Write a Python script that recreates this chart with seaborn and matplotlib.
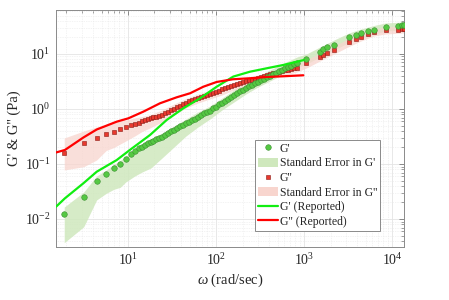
import numpy as np
import pandas as pd
import matplotlib
matplotlib.use("Agg")
import matplotlib.pyplot as plt
import seaborn as sns
from matplotlib.lines import Line2D
from matplotlib.patches import Patch

# ---------------- data ----------------
# measured frequencies (rad/s)
omega = [1.885, 3.142, 4.398, 5.655, 6.912, 8.168, 9.425, 10.68, 11.94, 13.19,
         14.45, 15.71, 16.96, 18.22, 19.48,
         20.81, 22.51, 24.35, 26.34, 28.48, 30.81, 33.32, 36.04, 38.98, 42.17,
         45.61, 49.33, 53.37, 57.73, 62.44, 67.53, 73.04, 79.0, 85.45, 92.44,
         100.0, 108.2, 117.0, 126.6, 136.9, 148.1, 160.2, 173.3, 187.4, 202.7,
         219.3, 237.1, 256.5, 277.5, 300.1, 324.7, 351.2, 379.8, 410.9, 444.4,
         480.7, 520.0, 562.3, 608.3, 658.0, 711.7, 769.8, 832.6,
         1067, 1520, 1623, 1811, 2193, 3247, 3899, 4444, 5268, 6244, 8435,
         11548, 12823, 13680]

g_storage = [0.0122, 0.0254, 0.0497, 0.0650, 0.0846, 0.100, 0.122, 0.149, 0.172, 0.193,
             0.206, 0.222, 0.238, 0.254, 0.267,
             0.283, 0.297, 0.312, 0.342, 0.369, 0.398, 0.422, 0.455, 0.483, 0.520,
             0.550, 0.590, 0.620, 0.669, 0.716, 0.762, 0.832, 0.882, 0.935, 1.043,
             1.097, 1.213, 1.307, 1.398, 1.546, 1.667, 1.782, 1.954, 2.107, 2.235,
             2.450, 2.576, 2.754, 2.970, 3.150, 3.339, 3.570, 3.754, 4.015, 4.257,
             4.591, 4.827, 5.161, 5.472, 5.802, 6.153, 6.635, 6.977,
             8.11, 11.01, 12.07, 13.13, 14.57, 20.12, 22.43, 24.09, 25.86, 27.66, 31.36,
             32.70, 33.25, 33.25]

g_loss = [0.1605, 0.2439, 0.3008, 0.3467, 0.3771, 0.4240, 0.4648, 0.5012, 0.5270, 0.5565,
          0.5925, 0.6230, 0.6497, 0.6775, 0.7006,
          0.7096, 0.7520, 0.7910, 0.8459, 0.8894, 0.9510, 1.0169, 1.0783, 1.1529, 1.2226,
          1.3074, 1.3748, 1.4575, 1.5325, 1.5979, 1.6805, 1.7378, 1.8273, 1.8895, 1.9870,
          2.0720, 2.1605, 2.2720, 2.3689, 2.4911, 2.5973, 2.7315, 2.8245, 2.9454, 3.0717,
          3.2030, 3.3113, 3.4240, 3.5704, 3.6923, 3.8503, 3.9811, 4.1513, 4.2930, 4.4397,
          4.5907, 4.7474, 4.9091, 5.0766, 5.2057, 5.3824, 5.5189, 5.6592,
          6.775, 8.931, 9.59, 10.30, 11.82, 16.32, 18.97, 20.38, 23.10, 25.12, 27.32,
          27.32, 28.13, 28.13]

# standard-error envelopes
se_omega = [1.885, 3.142, 4.398, 5.655, 6.912, 8.168, 9.425, 11.94, 14.45, 18.22,
            24.35, 33.32, 45.61, 62.44, 85.45, 117.0, 160.2, 219.3, 300.1, 410.9,
            562.3, 832.6, 1067, 1520, 2193, 3247, 4444, 6244, 8435, 13680]
gs_low = [0.00371, 0.00724, 0.0222, 0.0293, 0.0347, 0.0377, 0.0471, 0.0605, 0.0715, 0.0846,
          0.1285, 0.2037, 0.3229, 0.4708, 0.6579, 0.959, 1.341, 1.874, 2.512, 3.229,
          4.151, 5.567, 6.579, 8.823, 11.82, 16.19, 19.54, 23.10, 26.19, 27.32]
gs_high = [0.0165, 0.0310, 0.0605, 0.0778, 0.0979, 0.1158, 0.1369, 0.1874, 0.2310, 0.2848,
           0.3661, 0.4909, 0.6579, 0.8820, 1.134, 1.585, 2.216, 3.097, 3.981, 5.118,
           6.579, 8.823, 10.0, 13.41, 17.97, 24.09, 28.48, 32.97, 36.61, 38.18]
gl_low = [0.0778, 0.0893, 0.1182, 0.1760, 0.1995, 0.2310, 0.2619, 0.3229, 0.3898, 0.4609,
          0.5803, 0.7779, 1.043, 1.286, 1.520, 1.797, 2.216, 2.620, 3.097, 3.512,
          4.065, 4.707, 5.567, 7.463, 10.0, 13.69, 17.23, 21.25, 23.10, 24.09]
gl_high = [0.2970, 0.3981, 0.4708, 0.5226, 0.5681, 0.6049, 0.6310, 0.6861, 0.7305, 0.7943,
           0.9590, 1.233, 1.552, 1.874, 2.170, 2.566, 3.097, 3.585, 4.151, 4.707,
           5.451, 6.443, 7.781, 10.43, 13.98, 19.13, 23.59, 28.48, 30.97, 32.29]

# reported curves
rep_omega_s = [1.52, 1.92, 3.11, 4.41, 7.44, 10.5, 17.8, 27.5, 42.5, 65.8, 101.8,
               157, 243, 376, 584, 827, 1000]
rep_storage = [0.0167, 0.0238, 0.0446, 0.0724, 0.118, 0.18, 0.337, 0.631, 1.03, 1.565,
               2.54, 3.88, 4.76, 5.49, 6.32, 7.24, 7.77]
rep_omega_l = [1.52, 1.92, 3.11, 4.41, 7.44, 10.1, 14.9, 23.1, 35.7, 50.7, 71.8,
               101.8, 156, 243, 376, 576, 982]
rep_loss = [0.162, 0.18, 0.303, 0.424, 0.588, 0.677, 0.893, 1.27, 1.63, 1.93, 2.54,
            3.1, 3.47, 3.62, 3.82, 3.93, 4.1]

legend_labels = ["G'", "Standard Error in G'", "G''", "Standard Error in G''",
                 "G' (Reported)", "G'' (Reported)"]

# ---------------- style ----------------
sns.set_style("white")
plt.rcParams["font.family"] = ["Liberation Serif", "DejaVu Serif"]
plt.rcParams["mathtext.fontset"] = "custom"
plt.rcParams["mathtext.rm"] = "Liberation Serif"
plt.rcParams["mathtext.it"] = "Liberation Serif:italic"
plt.rcParams["mathtext.bf"] = "Liberation Serif:bold"

GREEN_BAND = "#cfe8bd"
RED_BAND = "#f8d5ce"
GREEN_DOT = "#55c843"
GREEN_EDGE = "#3b8f31"
RED_DOT = "#e8392e"
RED_EDGE = "#8a1a14"
GREEN_LINE = "#11ee11"
RED_LINE = "#ff0000"

fig = plt.figure(figsize=(4.49, 3.0), dpi=100)
ax = fig.add_axes([56 / 449, 1 - 247 / 300, 348 / 449, 237 / 300])

df = pd.DataFrame({"omega": omega, "Gs": g_storage, "Gl": g_loss})
rs = pd.DataFrame({"omega": rep_omega_s, "G": rep_storage})
rl = pd.DataFrame({"omega": rep_omega_l, "G": rep_loss})

ax.fill_between(se_omega, gs_low, gs_high, color=GREEN_BAND, alpha=0.85, lw=0, zorder=1)
ax.fill_between(se_omega, gl_low, gl_high, color=RED_BAND, alpha=0.75, lw=0, zorder=1)

sns.scatterplot(data=df, x="omega", y="Gl", marker="s", s=11, color=RED_DOT,
                edgecolor=RED_EDGE, linewidth=0.4, ax=ax, zorder=3, legend=False)
sns.scatterplot(data=df, x="omega", y="Gs", marker="o", s=16, color=GREEN_DOT,
                edgecolor=GREEN_EDGE, linewidth=0.4, ax=ax, zorder=3, legend=False)

sns.lineplot(data=rs, x="omega", y="G", color=GREEN_LINE, lw=1.6, ax=ax, zorder=4,
             legend=False, estimator=None, sort=False)
sns.lineplot(data=rl, x="omega", y="G", color=RED_LINE, lw=1.6, ax=ax, zorder=4,
             legend=False, estimator=None, sort=False)

ax.set_xscale("log")
ax.set_yscale("log")
ax.set_xlim(1.52, 13680)
ax.set_ylim(0.0031, 63)

ax.grid(True, which="major", color="#e4e4e4", lw=0.6, ls="-")
ax.grid(True, which="minor", color="#e8e8e8", lw=0.5, ls=(0, (1, 1.5)))
ax.set_axisbelow(True)
ax.tick_params(which="both", direction="in", top=True, right=True,
               color="#7a7a7a", labelcolor="#262626", labelsize=10)
ax.tick_params(which="major", length=3.5, width=0.6, pad=4)
ax.tick_params(which="minor", length=2, width=0.5)
for sp in ax.spines.values():
    sp.set_color("#8a8a8a")
    sp.set_linewidth(0.7)

ax.set_xlabel(r"$\omega$ (rad/sec)", fontsize=10.5, color="#262626", labelpad=2)
ax.set_ylabel("G' & G'' (Pa)", fontsize=10.5, color="#262626", labelpad=3)

handles = [
    Line2D([], [], ls="none", marker="o", markersize=4, markerfacecolor=GREEN_DOT,
           markeredgecolor=GREEN_EDGE, markeredgewidth=0.4),
    Patch(facecolor=GREEN_BAND, edgecolor="none"),
    Line2D([], [], ls="none", marker="s", markersize=3, markerfacecolor=RED_DOT,
           markeredgecolor=RED_EDGE, markeredgewidth=0.4),
    Patch(facecolor=RED_BAND, edgecolor="none"),
    Line2D([], [], color=GREEN_LINE, lw=1.6),
    Line2D([], [], color=RED_LINE, lw=1.6),
]
leg = ax.legend(handles, legend_labels, loc="lower right",
                bbox_to_anchor=((380 - 56) / 348, (247 - 230.7) / 237),
                fontsize=8.5, frameon=True, fancybox=False, framealpha=1,
                edgecolor="#8a8a8a", handlelength=1.7, handleheight=0.8,
                handletextpad=0.1, labelspacing=0.22, borderpad=0.25,
                borderaxespad=0.0)
leg.get_frame().set_linewidth(0.7)
for t in leg.get_texts():
    t.set_color("#262626")

fig.savefig("out.png", dpi=100)
